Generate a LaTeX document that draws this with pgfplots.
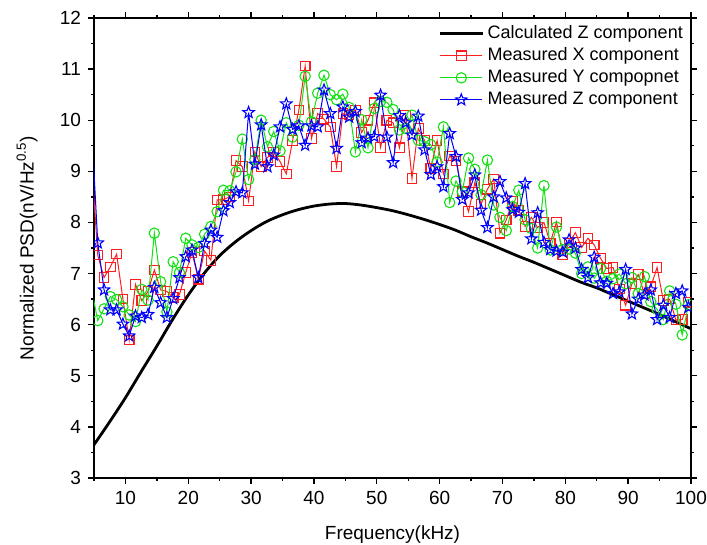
\documentclass[border=0pt]{standalone}
\usepackage{fontspec}
\setmainfont{Liberation Sans}
\usepackage{pgfplots}
\usepackage{pgfplotstable}
\pgfplotsset{compat=1.18}
\definecolor{mred}{RGB}{255,30,30}
\definecolor{mgreen}{RGB}{20,225,20}
\definecolor{mblue}{RGB}{0,0,255}
\pgfdeclareplotmark{ostar}{%
  \pgfpathmoveto{\pgfpointpolar{90}{\pgfplotmarksize}}%
  \pgfpathlineto{\pgfpointpolar{126}{0.42\pgfplotmarksize}}%
  \pgfpathlineto{\pgfpointpolar{162}{\pgfplotmarksize}}%
  \pgfpathlineto{\pgfpointpolar{198}{0.42\pgfplotmarksize}}%
  \pgfpathlineto{\pgfpointpolar{234}{\pgfplotmarksize}}%
  \pgfpathlineto{\pgfpointpolar{270}{0.42\pgfplotmarksize}}%
  \pgfpathlineto{\pgfpointpolar{306}{\pgfplotmarksize}}%
  \pgfpathlineto{\pgfpointpolar{342}{0.42\pgfplotmarksize}}%
  \pgfpathlineto{\pgfpointpolar{18}{\pgfplotmarksize}}%
  \pgfpathlineto{\pgfpointpolar{54}{0.42\pgfplotmarksize}}%
  \pgfpathclose\pgfusepathqstroke}
\pgfplotstableread{
x r g b
4.6 9.20 6.70 9.90
5.6 7.36 6.08 7.60
6.6 6.92 6.31 6.68
7.6 7.13 6.55 6.29
8.6 7.38 6.49 6.29
9.6 6.50 6.35 6.01
10.6 5.70 6.19 5.78
11.6 6.79 6.06 6.17
12.6 6.47 6.69 6.14
13.6 6.65 6.48 6.20
14.6 7.07 7.79 6.73
15.6 6.68 6.84 6.43
16.6 6.65 6.25 6.14
17.6 6.53 7.23 6.51
18.6 6.59 7.02 6.92
19.6 7.02 7.69 7.33
20.6 7.41 7.56 7.46
21.6 6.89 7.51 6.92
22.6 7.44 7.77 7.59
23.6 7.26 7.92 7.85
24.6 8.44 8.21 7.71
25.6 8.45 8.63 8.23
26.6 8.50 8.62 8.39
27.6 9.21 8.99 8.60
28.6 9.09 9.63 8.58
29.6 8.42 8.84 10.15
30.6 9.38 9.23 9.14
31.6 9.09 10.00 9.91
32.6 9.27 9.48 9.09
33.6 9.38 9.78 9.32
34.6 9.19 9.40 9.87
35.6 8.95 9.95 10.32
36.6 9.60 9.67 9.82
37.6 10.20 9.90 9.89
38.6 11.06 10.86 9.51
39.6 9.64 9.97 9.89
40.6 10.13 10.53 9.87
41.6 10.02 10.88 10.59
42.6 9.87 10.50 10.13
43.6 9.09 10.40 9.45
44.6 10.13 10.51 10.26
45.6 10.10 10.25 10.06
46.6 10.20 9.38 10.17
47.6 9.76 10.01 9.56
48.6 10.00 9.46 9.65
49.6 10.34 10.23 9.68
50.6 9.47 10.37 10.49
51.6 10.00 10.35 9.67
52.6 9.95 10.21 9.17
53.6 9.46 9.81 10.09
54.6 10.10 9.84 9.95
55.6 8.86 10.10 9.71
56.6 9.84 9.61 10.08
57.6 9.60 9.58 9.42
58.6 9.06 9.52 8.94
59.6 9.60 9.18 9.09
60.6 8.95 9.87 8.70
61.6 9.30 8.39 9.74
62.6 9.20 8.81 9.29
63.6 8.60 8.60 8.45
64.6 8.21 9.26 8.58
65.6 8.78 9.04 8.93
66.6 8.36 8.54 8.24
67.6 8.65 9.22 7.90
68.6 8.85 8.34 8.50
69.6 7.79 8.10 8.80
70.6 8.05 7.84 8.48
71.6 8.41 8.31 8.25
72.6 8.24 8.63 8.20
73.6 7.92 8.05 8.76
74.6 8.10 7.88 7.68
75.6 7.90 7.50 8.19
76.6 8.00 8.72 7.61
77.6 7.60 7.46 7.47
78.6 8.01 7.91 7.44
79.6 7.36 7.47 7.42
80.6 7.60 7.48 7.66
81.6 7.80 7.40 7.50
82.6 7.51 7.00 7.08
83.6 7.69 7.13 6.92
84.6 7.56 6.91 7.32
85.6 7.30 7.10 6.82
86.6 7.10 6.85 6.81
87.6 7.12 6.90 6.61
88.6 6.70 6.99 6.64
89.6 6.38 6.80 7.08
90.6 6.80 6.92 6.21
91.6 6.98 6.61 6.50
92.6 6.60 6.94 6.58
93.6 6.74 6.45 6.68
94.6 7.12 6.30 6.10
95.6 6.47 6.10 6.38
96.6 6.50 6.66 6.14
97.6 6.09 6.40 6.61
98.6 6.10 5.80 6.66
99.6 6.44 6.39 6.34
}\meas
\pgfplotstableread{
x y
5 3.65
7.5 4.10
10 4.57
12.5 5.08
15 5.58
17.5 6.10
20 6.58
22.5 7.00
25 7.35
27.5 7.62
30 7.84
32.5 8.02
35 8.15
37.5 8.25
40 8.32
42.5 8.36
45 8.37
47.5 8.34
50 8.29
52.5 8.23
55 8.15
57.5 8.06
60 7.96
62.5 7.85
65 7.72
67.5 7.60
70 7.47
72.5 7.34
75 7.22
77.5 7.09
80 6.96
82.5 6.83
85 6.72
87.5 6.59
90 6.46
92.5 6.33
95 6.20
97.5 6.06
100 5.92
}\calc
\begin{document}
\begin{tikzpicture}
\useasboundingbox (-47pt,-33.5pt) rectangle (306.5pt,239pt);
\begin{axis}[
  scale only axis, width=298.5pt, height=230pt,
  xmin=5, xmax=100, ymin=3, ymax=12,
  xtick={10,20,...,100}, minor xtick={5,15,...,95},
  ytick={3,4,...,12}, minor ytick={3.5,4.5,...,11.5},
  tick align=outside, major tick length=3pt, minor tick length=1.6pt,
  axis line style={line width=0.9pt},
  every tick/.style={line width=0.7pt, black},
  font=\fontsize{9.5}{11}\selectfont,
  /pgf/number format/assume math mode=true,
  xlabel={Frequency(kHz)},
  ylabel={Normalized PSD(nV/Hz\textsuperscript{0.5})},
  xlabel style={at={(axis description cs:0.5,0)}, anchor=base, yshift=-31pt},
  ylabel style={at={(axis description cs:-0.1122,0.5)}, anchor=center, rotate=0},
  clip marker paths=true,
  legend style={draw=none, fill=none, at={(rel axis cs:0.997,0.997)}, anchor=north east,
    font=\fontsize{9}{11}\selectfont, row sep=-1pt, inner sep=1pt},
  legend cell align=left,
  legend image code/.code={\draw[mark repeat=2,mark phase=2,#1] plot coordinates {(0pt,0pt) (10.5pt,0pt) (21pt,0pt)};},
]
\addplot[black, line width=1.4pt, smooth] table[x=x,y=y] {\calc};
\addlegendentry{Calculated Z component}
\addplot[mred, line width=0.5pt, mark=square, mark size=2.4pt, mark options={solid, line width=0.55pt}] table[x=x,y=r] {\meas};
\addlegendentry{Measured X component}
\addplot[mgreen, line width=0.5pt, mark=o, mark size=2.6pt, mark options={solid, line width=0.55pt}] table[x=x,y=g] {\meas};
\addlegendentry{Measured Y compopnet}
\addplot[mblue, line width=0.5pt, mark=ostar, mark size=3pt, mark options={solid, line width=0.55pt}] table[x=x,y=b] {\meas};
\addlegendentry{Measured Z component}
\end{axis}
\end{tikzpicture}
\end{document}
